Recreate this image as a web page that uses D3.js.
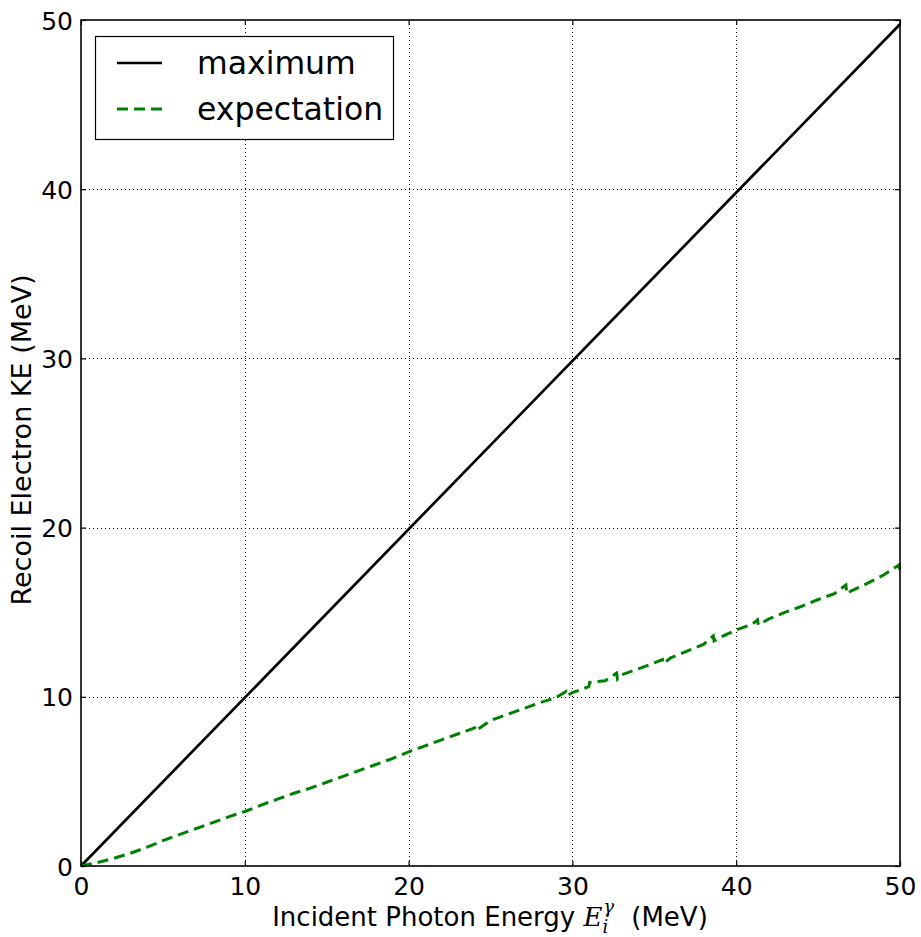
<!DOCTYPE html>
<html><head><meta charset="utf-8">
<script src="https://cdn.jsdelivr.net/npm/d3@7"></script>
<style>body{margin:0;background:#fff}svg{display:block}text{font-family:"DejaVu Sans",sans-serif;fill:#000}</style>
</head><body>
<svg id="c" width="921" height="937"></svg>
<script>
// Data
const xTicks = [0, 10, 20, 30, 40, 50];
const yTicks = [0, 10, 20, 30, 40, 50];
const maxE = [0, 50];          // photon energy (MeV)
const maxKE = [0, 49.75];      // maximum recoil KE (MeV)
const expE = [0,1,2,3,4,5,6,7,8,9,10,11,12,13,14,15,16,17,18,19,20,21,22,23,24,24.2,24.25,25,26,27,28,29,29.6,29.65,30,31,31.05,32,32.7,32.75,33,34,35,35.5,35.55,36,37,38,38.6,38.65,39,40,41,41.3,41.35,42,43,44,45,46,46.7,46.75,47,48,49,49.95,50];
const expKE = [0,0.2,0.45,0.75,1.1,1.5,1.85,2.2,2.55,2.9,3.22,3.6,3.95,4.3,4.6,4.95,5.3,5.65,6.0,6.35,6.75,7.1,7.45,7.8,8.15,8.3,8.1,8.6,8.95,9.3,9.65,9.95,10.3,10.05,10.25,10.6,10.85,10.95,11.4,11.05,11.3,11.65,12.0,12.2,11.95,12.3,12.7,13.1,13.6,13.3,13.5,13.95,14.3,14.55,14.25,14.6,15.0,15.35,15.75,16.1,16.6,16.1,16.25,16.7,17.2,17.8,17.35];

(function () {
const svg = d3.select("#c");
const L = 81, R = 900, T = 20, B = 866;
const x = d3.scaleLinear().domain([0, 50]).range([L, R]);
const y = d3.scaleLinear().domain([0, 50]).range([B, T]);

// grid
const g = svg.append("g");
g.selectAll(".gx").data(xTicks.slice(1, -1)).enter().append("line")
  .attr("x1", d => Math.round(x(d)) + 0.5).attr("x2", d => Math.round(x(d)) + 0.5)
  .attr("y1", T).attr("y2", B).attr("stroke", "#000").attr("stroke-width", 1).attr("stroke-dasharray", "1,3");
g.selectAll(".gy").data(yTicks.slice(1, -1)).enter().append("line")
  .attr("y1", d => Math.round(y(d)) + 0.5).attr("y2", d => Math.round(y(d)) + 0.5)
  .attr("x1", L).attr("x2", R).attr("stroke", "#000").attr("stroke-width", 1).attr("stroke-dasharray", "1,3");

// lines
const line = d3.line().x(d => x(d[0])).y(d => y(d[1]));
svg.append("path").datum(maxE.map((e, i) => [e, maxKE[i]])).attr("d", line)
  .attr("fill", "none").attr("stroke", "#000").attr("stroke-width", 2.7);
svg.append("path").datum(expE.map((e, i) => [e, expKE[i]])).attr("d", line)
  .attr("fill", "none").attr("stroke", "#008000").attr("stroke-width", 3).attr("stroke-dasharray", "11,6");

// axes with inward ticks on all sides
const ax = (gen, tx, ty) => svg.append("g").attr("transform", `translate(${tx},${ty})`).call(gen)
  .call(s => s.select(".domain").remove());
const axB = ax(d3.axisBottom(x).tickValues(xTicks).tickSizeInner(-5).tickSizeOuter(0).tickPadding(11), 0, B);
ax(d3.axisTop(x).tickValues(xTicks).tickSizeInner(-5).tickSizeOuter(0).tickFormat(""), 0, T);
const axL = ax(d3.axisLeft(y).tickValues(yTicks).tickSizeInner(-5).tickSizeOuter(0).tickPadding(8), L, 0);
ax(d3.axisRight(y).tickValues(yTicks).tickSizeInner(-5).tickSizeOuter(0).tickFormat(""), R, 0);
svg.selectAll(".tick line").attr("stroke", "#000").attr("stroke-width", 1.2);
svg.selectAll(".tick text").attr("font-size", 25).attr("font-family", "DejaVu Sans").attr("fill", "#000");
axB.selectAll(".tick text").attr("dy", "0.71em");
axL.selectAll(".tick text").attr("dy", "0.36em");

// frame
svg.append("rect").attr("x", L).attr("y", T).attr("width", R - L).attr("height", B - T)
  .attr("fill", "none").attr("stroke", "#000").attr("stroke-width", 1.6);

// axis labels
const xl = svg.append("text").attr("x", 490).attr("y", 926).attr("text-anchor", "middle").attr("font-size", 26);
xl.append("tspan").text("Incident Photon Energy ");
xl.append("tspan").attr("font-family", "DejaVu Serif").attr("font-style", "italic").text("E");
xl.append("tspan").attr("font-family", "DejaVu Serif").attr("font-style", "italic").attr("font-size", 18).attr("dy", 7).text("i");
xl.append("tspan").attr("font-family", "DejaVu Serif").attr("font-style", "italic").attr("font-size", 18).attr("dy", -20).attr("dx", -5).text("γ");
xl.append("tspan").attr("dy", 13).attr("dx", 9).text(" (MeV)");

svg.append("text").attr("transform", "translate(31,440) rotate(-90)").attr("text-anchor", "middle")
  .attr("font-size", 27).text("Recoil Electron KE (MeV)");

// legend
const lg = svg.append("g");
lg.append("rect").attr("x", 95.5).attr("y", 36.5).attr("width", 298).attr("height", 103)
  .attr("fill", "#fff").attr("stroke", "#000").attr("stroke-width", 1.2);
const items = [["maximum", "#000", null, 63], ["expectation", "#008000", "11,6", 109]];
items.forEach(([name, col, dash, yy]) => {
  lg.append("line").attr("x1", 117).attr("x2", 162).attr("y1", yy).attr("y2", yy)
    .attr("stroke", col).attr("stroke-width", dash ? 3 : 2.7).attr("stroke-dasharray", dash);
  lg.append("text").attr("x", 197).attr("y", yy).attr("dy", "0.36em").attr("font-size", 31.5).text(name);
});
})();
</script>
</body></html>
